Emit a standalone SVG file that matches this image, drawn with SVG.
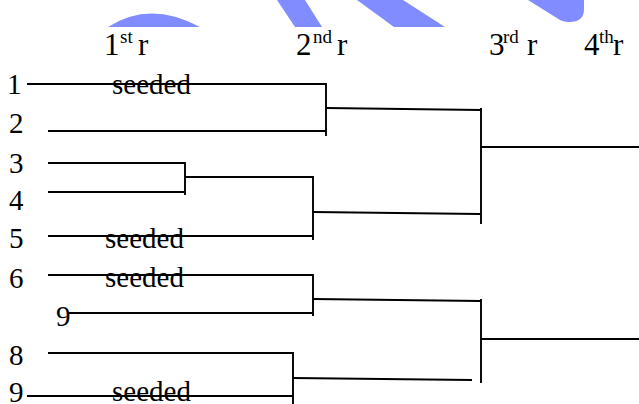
<svg xmlns="http://www.w3.org/2000/svg" width="639" height="404" viewBox="0 0 639 404">
<style>
text{font-family:"Liberation Serif","DejaVu Serif",serif;fill:#000}
.row{font-size:29px}
.hd{font-size:31px}
.sup{font-size:19px}
.c line{stroke:#000;stroke-width:1.9;fill:none}
.blue{fill:#808cff}
</style>
<rect width="639" height="404" fill="#fff"/>
<g id="watermark">
<path class="blue" d="M108,27 Q150,0 200,27 Z"/>
<polygon class="blue" points="277,0 305,0 322,27 295,27"/>
<polygon class="blue" points="357,0 403,0 445,27 394,27"/>
<path class="blue" d="M528,0 H584 V9 Q584,23 567,22 Q563,21.5 560,20 Z"/>
</g>
<g id="headers">
<text id="h1" class="hd" y="55" font-family="Liberation Serif, serif"><tspan x="104">1</tspan><tspan x="120" y="43" class="sup">st</tspan><tspan x="138" y="55">r</tspan></text>
<text id="h2" class="hd" y="55" font-family="Liberation Serif, serif"><tspan x="296">2</tspan><tspan x="313" y="43" class="sup">nd</tspan><tspan x="337" y="55">r</tspan></text>
<text id="h3" class="hd" y="55" font-family="Liberation Serif, serif"><tspan x="489">3</tspan><tspan x="503" y="43" class="sup">rd</tspan><tspan x="527" y="55">r</tspan></text>
<text id="h4" class="hd" y="55" font-family="Liberation Serif, serif"><tspan x="584">4</tspan><tspan x="599" y="43" class="sup">th</tspan><tspan x="613" y="55">r</tspan></text>
</g>
<g id="connectors" class="c">
<line x1="27" y1="84" x2="326" y2="84"/>
<line x1="48" y1="131" x2="326" y2="131"/>
<line x1="326" y1="83" x2="326" y2="136"/>
<line x1="326" y1="108" x2="481" y2="110"/>
<line x1="481" y1="108" x2="481" y2="224"/>
<line x1="481" y1="147" x2="639" y2="147"/>
<line x1="48" y1="163" x2="185" y2="163"/>
<line x1="48" y1="192" x2="185" y2="192"/>
<line x1="185" y1="162" x2="185" y2="195"/>
<line x1="185" y1="177" x2="313" y2="177"/>
<line x1="313" y1="176" x2="313" y2="240"/>
<line x1="48" y1="236" x2="313" y2="236"/>
<line x1="313" y1="212" x2="480" y2="214"/>
<line x1="48" y1="275" x2="313" y2="275"/>
<line x1="68" y1="313" x2="313" y2="313"/>
<line x1="313" y1="274" x2="313" y2="316"/>
<line x1="313" y1="299" x2="481" y2="301"/>
<line x1="481" y1="299" x2="481" y2="383"/>
<line x1="481" y1="339" x2="639" y2="339"/>
<line x1="48" y1="353" x2="293" y2="353"/>
<line x1="27" y1="396" x2="293" y2="396"/>
<line x1="293" y1="352" x2="293" y2="404"/>
<line x1="293" y1="378" x2="472" y2="380"/>
</g>
<g id="entrants">
<text id="n1" class="row" x="7" y="94" font-family="Liberation Serif, serif">1</text>
<text id="n2" class="row" x="9" y="133" font-family="Liberation Serif, serif">2</text>
<text id="n3" class="row" x="9" y="173" font-family="Liberation Serif, serif">3</text>
<text id="n4" class="row" x="9" y="210" font-family="Liberation Serif, serif">4</text>
<text id="n5" class="row" x="9" y="248" font-family="Liberation Serif, serif">5</text>
<text id="n6" class="row" x="9" y="288" font-family="Liberation Serif, serif">6</text>
<text id="n9a" class="row" x="56" y="326" font-family="Liberation Serif, serif">9</text>
<text id="n8" class="row" x="9" y="365" font-family="Liberation Serif, serif">8</text>
<text id="n9b" class="row" x="9" y="402" font-family="Liberation Serif, serif">9</text>
</g>
<g id="seeded">
<text class="row" x="112" y="94" font-family="Liberation Serif, serif">seeded</text>
<text class="row" x="105" y="248" font-family="Liberation Serif, serif">seeded</text>
<text class="row" x="105" y="287" font-family="Liberation Serif, serif">seeded</text>
<text class="row" x="112" y="401" font-family="Liberation Serif, serif">seeded</text>
</g>
</svg>
